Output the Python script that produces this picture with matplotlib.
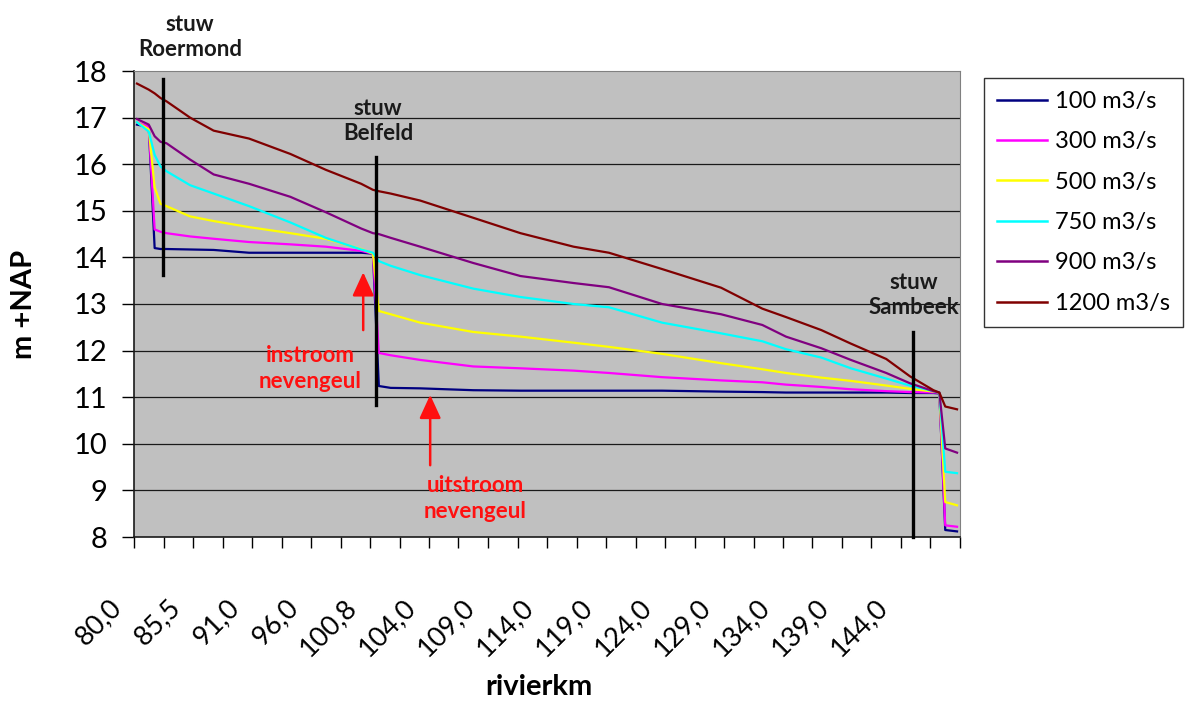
import matplotlib
matplotlib.use("Agg")
import matplotlib.pyplot as plt
from matplotlib.transforms import ScaledTranslation

plt.rcParams['font.family'] = ['Lato', 'DejaVu Sans']

# Category index along the river profile of each sampled point
cat_idx = [0, 2, 3, 4, 5, 9, 13, 19, 26, 32, 38, 40, 41, 43, 48, 57, 65, 74,
           80, 89, 99, 106, 110, 116, 121, 127, 131, 135, 136, 137, 139]

# Water levels (m +NAP) per discharge
q100 = [16.85, 16.80, 14.20, 14.18, 14.18, 14.17, 14.16, 14.10, 14.10, 14.10, 14.10, 14.08,
        11.24, 11.20, 11.19, 11.15, 11.14, 11.14, 11.14, 11.14, 11.12, 11.11, 11.10, 11.10,
        11.10, 11.10, 11.09, 11.09, 11.08, 8.15, 8.12]
q300 = [16.90, 16.80, 14.60, 14.55, 14.52, 14.45, 14.40, 14.33, 14.28, 14.23, 14.14, 14.08,
        11.95, 11.90, 11.80, 11.66, 11.62, 11.57, 11.52, 11.43, 11.36, 11.32, 11.27, 11.22,
        11.17, 11.13, 11.11, 11.10, 11.10, 8.25, 8.22]
q500 = [16.90, 16.75, 15.50, 15.15, 15.10, 14.88, 14.78, 14.65, 14.52, 14.40, 14.18, 14.08,
        12.85, 12.78, 12.60, 12.40, 12.30, 12.17, 12.08, 11.93, 11.73, 11.60, 11.52, 11.42,
        11.35, 11.25, 11.18, 11.12, 11.10, 8.75, 8.68]
q750 = [16.90, 16.70, 16.20, 15.95, 15.85, 15.55, 15.37, 15.10, 14.75, 14.42, 14.17, 14.10,
        13.92, 13.82, 13.62, 13.33, 13.15, 13.00, 12.93, 12.60, 12.37, 12.20, 12.03, 11.85,
        11.62, 11.40, 11.25, 11.13, 11.10, 9.40, 9.37]
q900 = [16.97, 16.85, 16.60, 16.48, 16.45, 16.10, 15.78, 15.58, 15.30, 14.97, 14.62, 14.52,
        14.50, 14.42, 14.23, 13.88, 13.60, 13.45, 13.36, 13.00, 12.78, 12.55, 12.30, 12.05,
        11.80, 11.52, 11.30, 11.13, 11.10, 9.90, 9.81]
q1200 = [17.73, 17.60, 17.52, 17.42, 17.35, 17.00, 16.72, 16.55, 16.22, 15.88, 15.58, 15.45,
         15.42, 15.37, 15.22, 14.85, 14.52, 14.23, 14.10, 13.75, 13.35, 12.90, 12.72, 12.44,
         12.15, 11.82, 11.45, 11.15, 11.10, 10.80, 10.74]

series_labels = ['100 m3/s', '300 m3/s', '500 m3/s', '750 m3/s', '900 m3/s', '1200 m3/s']
series_colors = ['#000080', '#FF00FF', '#FFFF00', '#00FFFF', '#800080', '#800000']

km_labels = ['80,0', '85,5', '91,0', '96,0', '100,8', '104,0', '109,0',
             '114,0', '119,0', '124,0', '129,0', '134,0', '139,0', '144,0']
n_categories = 140
yticks = list(range(8, 19))

fig = plt.figure(figsize=(11.87, 7.07), dpi=100)
ax = fig.add_axes([134 / 1187, 1 - 537 / 707, (960 - 134) / 1187, (537 - 71) / 707])
ax.set_facecolor('#C0C0C0')

xs = [i + 0.5 for i in cat_idx]
for vals, lab, col in zip([q100, q300, q500, q750, q900, q1200], series_labels, series_colors):
    ax.plot(xs, vals, color=col, lw=1.6, label=lab, zorder=3)

ax.set_xlim(0, n_categories)
ax.set_ylim(8, 18)
ax.set_yticks(yticks)
ax.set_yticklabels([str(v) for v in yticks])
for v in yticks[1:-1]:
    ax.axhline(v, color='#1a1a1a', lw=0.9, zorder=1)

ax.set_xticks(range(0, n_categories + 1, 5))
ax.set_xticklabels([km_labels[k // 10] if (k % 10 == 0 and k // 10 < len(km_labels)) else ''
                    for k in range(0, n_categories + 1, 5)])
ax.tick_params(axis='x', length=8, width=1, direction='out', labelsize=19.5, pad=40)
ax.tick_params(axis='y', length=9, width=1, direction='out', labelsize=21, pad=10)
for lbl in ax.get_xticklabels():
    lbl.set_rotation(45)
    lbl.set_ha('right')
    lbl.set_va('center')
    lbl.set_rotation_mode('anchor')
    lbl.set_transform(lbl.get_transform() + ScaledTranslation(-0.17, 0, fig.dpi_scale_trans))

for side in ['top', 'right']:
    ax.spines[side].set_color('#808080')
for side in ['left', 'bottom']:
    ax.spines[side].set_color('#1a1a1a')
    ax.spines[side].set_linewidth(1.2)

ax.set_ylabel('m +NAP', fontsize=21, fontweight='bold')
ax.set_xlabel('rivierkm', fontsize=21, fontweight='bold')
ax.xaxis.set_label_coords(0.49, -0.295)
ax.yaxis.set_label_coords(-0.118, 0.5)

# Weirs
ax.plot([4.9, 4.9], [13.62, 17.82], color='black', lw=2.4, zorder=4)
ax.plot([41.0, 41.0], [10.83, 16.15], color='black', lw=2.4, zorder=4)
ax.plot([132.0, 132.0], [8.0, 12.4], color='black', lw=2.4, zorder=4, clip_on=False)
stuw_kw = dict(ha='center', va='center', fontsize=16, fontweight='bold',
               color='#1a1a1a', linespacing=1.2, zorder=5)
ax.text(9.5, 18.73, 'stuw\nRoermond', clip_on=False, **stuw_kw)
ax.text(41.4, 16.93, 'stuw\nBelfeld', **stuw_kw)
ax.text(132.1, 13.19, 'stuw\nSambeek', **stuw_kw)

# Side channel inflow / outflow
arrow_kw = dict(arrowstyle='-|>,head_length=0.72,head_width=0.33', color='#FF1010',
                lw=1.8, mutation_scale=20, shrinkA=0, shrinkB=0)
ax.annotate('', xy=(38.85, 13.68), xytext=(38.85, 12.44), arrowprops=arrow_kw, zorder=5)
ax.annotate('', xy=(50.2, 11.05), xytext=(50.2, 9.54), arrowprops=arrow_kw, zorder=5)
red_kw = dict(ha='center', va='center', fontsize=16, fontweight='bold',
              color='#FF1010', linespacing=1.3, zorder=5)
ax.text(29.9, 11.62, 'instroom\nnevengeul', **red_kw)
ax.text(57.8, 8.83, 'uitstroom\nnevengeul', **red_kw)

leg = ax.legend(loc='upper left', bbox_to_anchor=(984 / 1187, 1 - 78 / 707),
                bbox_transform=fig.transFigure, borderaxespad=0, fontsize=17,
                handlelength=2.1, labelspacing=0.82, fancybox=False, framealpha=1,
                edgecolor='#333333', borderpad=0.55, handletextpad=0.35)
for line in leg.get_lines():
    line.set_linewidth(1.8)
leg.get_frame().set_linewidth(1.0)

fig.savefig('out.png', dpi=100)
